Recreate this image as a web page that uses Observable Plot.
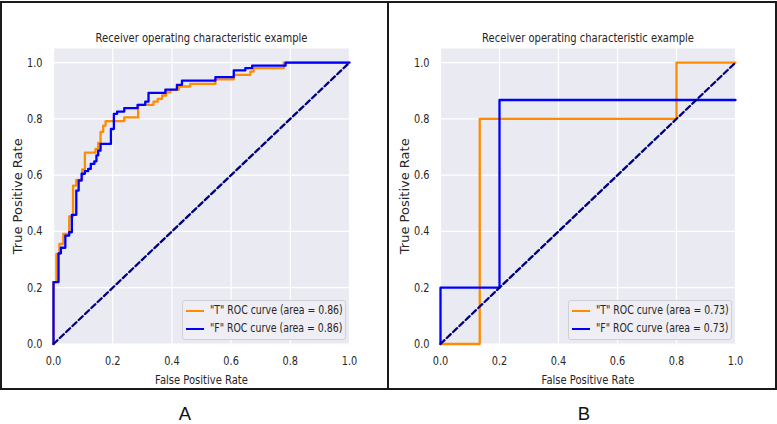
<!DOCTYPE html>
<html>
<head>
<meta charset="utf-8">
<script src="https://cdn.jsdelivr.net/npm/d3@7"></script>
<script src="https://cdn.jsdelivr.net/npm/@observablehq/plot@0.6"></script>
<style>
  body { margin: 0; background: #fff; }
  #root { position: relative; width: 777px; height: 424px; overflow: hidden; font-family: "DejaVu Sans", sans-serif; color: #262626; }
  .panel { position: absolute; box-sizing: border-box; border: 2px solid #1a1a1a; }
  .chart { position: absolute; top: 0; }
  .legend { position: absolute; box-sizing: border-box; width: 164px; height: 40px; background: #eeeef4; border: 1px solid #cfcfd6; border-radius: 3px; }
  .row { position: absolute; left: 0; height: 14px; width: 100%; }
  .sw { position: absolute; left: 3px; width: 18px; height: 2px; top: 6px; }
  .lt { position: absolute; left: 27px; top: -1px; font-size: 12px; white-space: nowrap; transform: scaleX(0.78); transform-origin: 0 50%; line-height: 14px; }
  .letter { position: absolute; font-family: "Liberation Sans", Arial, sans-serif; font-size: 18.5px; color: #111; line-height: normal; transform: translateX(-50%); }
</style>
</head>
<body>
<div id="root"></div>
<script>
// ---- data ----
const xTicks = [0, 0.2, 0.4, 0.6, 0.8, 1.0];
const yTicks = [0, 0.2, 0.4, 0.6, 0.8, 1.0];
const diagFpr = [0, 1];
const diagTpr = [0, 1];

// Panel A, "T" series (step points: level tpr reached, held until fpr)
const aT_fpr = [0, 0.010, 0.020, 0.033, 0.053, 0.066, 0.077, 0.097, 0.106, 0.142, 0.151, 0.159, 0.168, 0.176, 0.239, 0.286, 0.338, 0.352, 0.367, 0.381, 0.395, 0.423, 0.462, 0.547, 0.609, 0.665, 0.676, 0.778, 1.0];
const aT_tpr = [0, 0.220, 0.320, 0.356, 0.391, 0.453, 0.563, 0.583, 0.620, 0.680, 0.693, 0.715, 0.754, 0.776, 0.792, 0.805, 0.850, 0.861, 0.871, 0.883, 0.894, 0.903, 0.915, 0.924, 0.940, 0.956, 0.968, 0.980, 1.0];
// Panel A, "F" series
const aF_fpr = [0, 0.017, 0.025, 0.040, 0.053, 0.062, 0.077, 0.085, 0.095, 0.106, 0.117, 0.126, 0.138, 0.145, 0.151, 0.159, 0.194, 0.204, 0.215, 0.239, 0.284, 0.310, 0.321, 0.378, 0.417, 0.434, 0.547, 0.609, 0.648, 0.671, 0.784, 1.0];
const aF_tpr = [0, 0.220, 0.322, 0.342, 0.385, 0.397, 0.459, 0.545, 0.581, 0.605, 0.614, 0.622, 0.640, 0.649, 0.670, 0.687, 0.711, 0.764, 0.818, 0.826, 0.838, 0.850, 0.861, 0.892, 0.904, 0.921, 0.936, 0.948, 0.972, 0.980, 0.989, 1.0];
// Panel B
const bT_fpr = [0, 0.133, 0.8, 1.0];
const bT_tpr = [0, 0, 0.8, 1.0];
const bF_fpr = [0, 0.2, 1.0];
const bF_tpr = [0, 0.2, 0.867];

const titleText = "Receiver operating characteristic example";
const xLabelText = "False Positive Rate";
const yLabelText = "True Positive Rate";
const legendA = ['"T" ROC curve (area = 0.86)', '"F" ROC curve (area = 0.86)'];
const legendB = ['"T" ROC curve (area = 0.73)', '"F" ROC curve (area = 0.73)'];
const panelLetters = ["A", "B"];

// ---- drawing ----
const root = document.getElementById("root");
const zip = (xs, ys) => xs.map((x, i) => ({x, y: ys[i]}));

function squeeze(svg, k) {
  svg.querySelectorAll("text").forEach(t => {
    const tr = t.getAttribute("transform") || "";
    if (tr.includes("rotate")) return;
    const len = t.getComputedTextLength();
    if (len > 0) {
      t.setAttribute("textLength", (len * k).toFixed(2));
      t.setAttribute("lengthAdjust", "spacingAndGlyphs");
    }
  });
}

function makeChart(tSeries, fSeries, mr) {
  return Plot.plot({
    width: 388, height: 392,
    marginLeft: 53, marginRight: mr, marginTop: 48, marginBottom: 48.5,
    style: {background: "transparent", fontFamily: "DejaVu Sans, sans-serif", fontSize: "12.5px", color: "#262626", overflow: "visible"},
    x: {domain: [0, 1], ticks: xTicks, tickFormat: d3.format(".1f"), tickSize: 0, tickPadding: 12, label: null},
    y: {domain: [0, 1.05], ticks: yTicks, tickFormat: d3.format(".1f"), tickSize: 0, tickPadding: 11, label: null},
    marks: [
      Plot.frame({fill: "#eaeaf2", stroke: "none"}),
      Plot.gridX(xTicks, {stroke: "#ffffff", strokeOpacity: 1, strokeWidth: 1.2}),
      Plot.gridY(yTicks, {stroke: "#ffffff", strokeOpacity: 1, strokeWidth: 1.2}),
      Plot.line(tSeries, {x: "x", y: "y", curve: "step-before", stroke: "#ff8c00", strokeWidth: 2.3}),
      Plot.line(fSeries, {x: "x", y: "y", curve: "step-before", stroke: "#0000ff", strokeWidth: 2.3}),
      Plot.line(zip(diagFpr, diagTpr), {x: "x", y: "y", stroke: "#000080", strokeWidth: 2.3, strokeDasharray: "5.5,3.2"}),
      Plot.text([titleText], {frameAnchor: "top", lineAnchor: "middle", textAnchor: "middle", dy: -11, fontSize: 12.8, fill: "#262626"}),
      Plot.text([xLabelText], {frameAnchor: "bottom", lineAnchor: "middle", textAnchor: "middle", dy: 35.5, fontSize: 12.8, fill: "#262626"}),
      Plot.text([yLabelText], {frameAnchor: "left", lineAnchor: "middle", textAnchor: "middle", dx: -36, rotate: -90, fontSize: 13, fill: "#262626"})
    ]
  });
}

function addPanel(left, width, chart, legendTexts, legendLeft, letter, letterX) {
  const p = document.createElement("div");
  p.className = "panel";
  p.style.left = left + "px"; p.style.top = "1px"; p.style.width = width + "px"; p.style.height = "389px";
  root.appendChild(p);
  const c = document.createElement("div");
  c.className = "chart";
  c.style.left = left + "px";
  c.appendChild(chart);
  root.appendChild(c);
  squeeze(chart, 0.78);
  const lg = document.createElement("div");
  lg.className = "legend";
  lg.style.left = legendLeft + "px"; lg.style.top = "300px";
  const colors = ["#ff8c00", "#0000ff"];
  legendTexts.forEach((t, i) => {
    const r = document.createElement("div");
    r.className = "row"; r.style.top = (3 + i * 18) + "px";
    const sw = document.createElement("div"); sw.className = "sw"; sw.style.background = colors[i];
    const tx = document.createElement("div"); tx.className = "lt"; tx.textContent = t;
    r.appendChild(sw); r.appendChild(tx); lg.appendChild(r);
  });
  root.appendChild(lg);
  const L = document.createElement("div");
  L.className = "letter"; L.textContent = letter;
  L.style.left = letterX + "px"; L.style.top = "402.5px";
  root.appendChild(L);
}

addPanel(0, 389, makeChart(zip(aT_fpr, aT_tpr), zip(aF_fpr, aF_tpr), 39), legendA, 182, panelLetters[0], 185);
addPanel(387, 390, makeChart(zip(bT_fpr, bT_tpr), zip(bF_fpr, bF_tpr), 40), legendB, 568, panelLetters[1], 584);
</script>
</body>
</html>
